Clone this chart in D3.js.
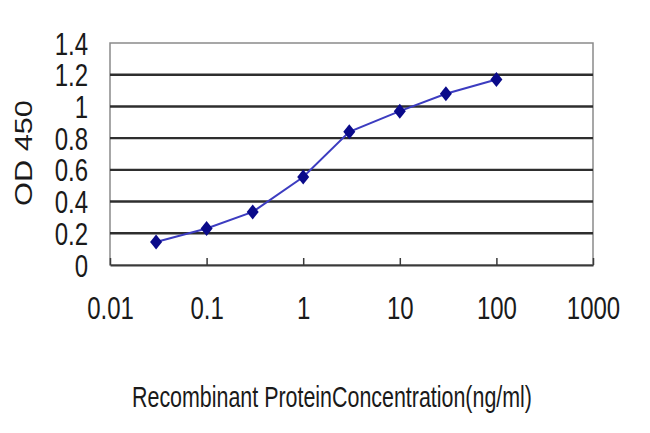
<!DOCTYPE html>
<html>
<head>
<meta charset="utf-8">
<script src="https://cdn.jsdelivr.net/npm/d3@7"></script>
<style>
  body { margin: 0; background: #fff; }
  text { font-family: "Liberation Sans", Arial, sans-serif; fill: #1a1a1a; }
</style>
</head>
<body>
<svg width="650" height="433"></svg>
<script>
// data
var concentrations = [0.03, 0.1, 0.3, 1, 3, 10, 30, 100];
var odValues = [0.145, 0.23, 0.335, 0.555, 0.84, 0.97, 1.08, 1.17];

var xTicks = [0.01, 0.1, 1, 10, 100, 1000];
var xTickLabels = ["0.01", "0.1", "1", "10", "100", "1000"];
var yTicks = [0, 0.2, 0.4, 0.6, 0.8, 1, 1.2, 1.4];
var yTickLabels = ["0", "0.2", "0.4", "0.6", "0.8", "1", "1.2", "1.4"];

var xTitle = "Recombinant ProteinConcentration(ng/ml)";
var yTitle = "OD 450";

// the picture is stretched vertically, so text is too
var stretch = 1.28;

var svg = d3.select("svg");
var margin = {left: 110, top: 43, right: 57, bottom: 168};
var width = 650 - margin.left - margin.right;
var height = 433 - margin.top - margin.bottom;

var x = d3.scaleLog().domain([0.01, 1000]).range([0, width]);
var y = d3.scaleLinear().domain([0, 1.4]).range([height, 0]);

var g = svg.append("g")
  .attr("transform", "translate(" + margin.left + "," + margin.top + ")");

// plot frame
g.append("rect")
  .attr("width", width)
  .attr("height", height)
  .attr("fill", "#fff")
  .attr("stroke", "#8a8a8a")
  .attr("stroke-width", 1.5);

// horizontal gridlines
g.selectAll(".grid")
  .data(yTicks.filter(function(d) { return d > 0 && d < 1.4; }))
  .enter()
  .append("line")
  .attr("x1", 0)
  .attr("x2", width)
  .attr("y1", function(d) { return y(d); })
  .attr("y2", function(d) { return y(d); })
  .attr("stroke", "#2e2e2e")
  .attr("stroke-width", 2.4);

// y axis labels
var yAxis = g.append("g")
  .call(d3.axisLeft(y)
    .tickValues(yTicks)
    .tickFormat(function(d, i) { return yTickLabels[i]; })
    .tickSize(0));
yAxis.select(".domain").remove();
yAxis.selectAll("text")
  .attr("x", -22)
  .attr("dy", "0.36em")
  .attr("transform", "scale(1," + stretch + ")")
  .style("font-size", "24px")
  .style("font-family", "'Liberation Sans', Arial, sans-serif")
  .style("fill", "#1a1a1a");

// x axis with ticks pointing inward
var xAxis = g.append("g")
  .attr("transform", "translate(0," + height + ")")
  .call(d3.axisBottom(x)
    .tickValues(xTicks)
    .tickFormat(function(d, i) { return xTickLabels[i]; })
    .tickSizeInner(-7)
    .tickSizeOuter(0));
xAxis.select(".domain").attr("stroke", "#3a3a3a").attr("stroke-width", 2.2);
xAxis.selectAll("line").attr("stroke", "#3a3a3a").attr("stroke-width", 1.5);
xAxis.selectAll("text")
  .attr("y", 42.2)
  .attr("dy", 0)
  .attr("transform", "scale(1," + stretch + ")")
  .style("font-size", "24px")
  .style("font-family", "'Liberation Sans', Arial, sans-serif")
  .style("fill", "#1a1a1a");

// the curve
var line = d3.line()
  .x(function(d, i) { return x(concentrations[i]); })
  .y(function(d) { return y(d); });

g.append("path")
  .datum(odValues)
  .attr("d", line)
  .attr("fill", "none")
  .attr("stroke", "#3c3cc0")
  .attr("stroke-width", 2);

g.selectAll(".pt")
  .data(odValues)
  .enter()
  .append("path")
  .attr("d", "M0,-7.5L6,0L0,7.5L-6,0Z")
  .attr("transform", function(d, i) {
    return "translate(" + x(concentrations[i]) + "," + y(d) + ")";
  })
  .attr("fill", "#0a0a8a");

// titles
svg.append("text")
  .attr("transform", "translate(332,407) scale(1," + stretch + ")")
  .attr("text-anchor", "middle")
  .attr("textLength", 400)
  .attr("lengthAdjust", "spacingAndGlyphs")
  .style("font-size", "23px")
  .text(xTitle);

svg.append("text")
  .attr("transform", "translate(32,153) scale(1," + stretch + ") rotate(-90)")
  .attr("text-anchor", "middle")
  .style("font-size", "24px")
  .text(yTitle);
</script>
</body>
</html>
